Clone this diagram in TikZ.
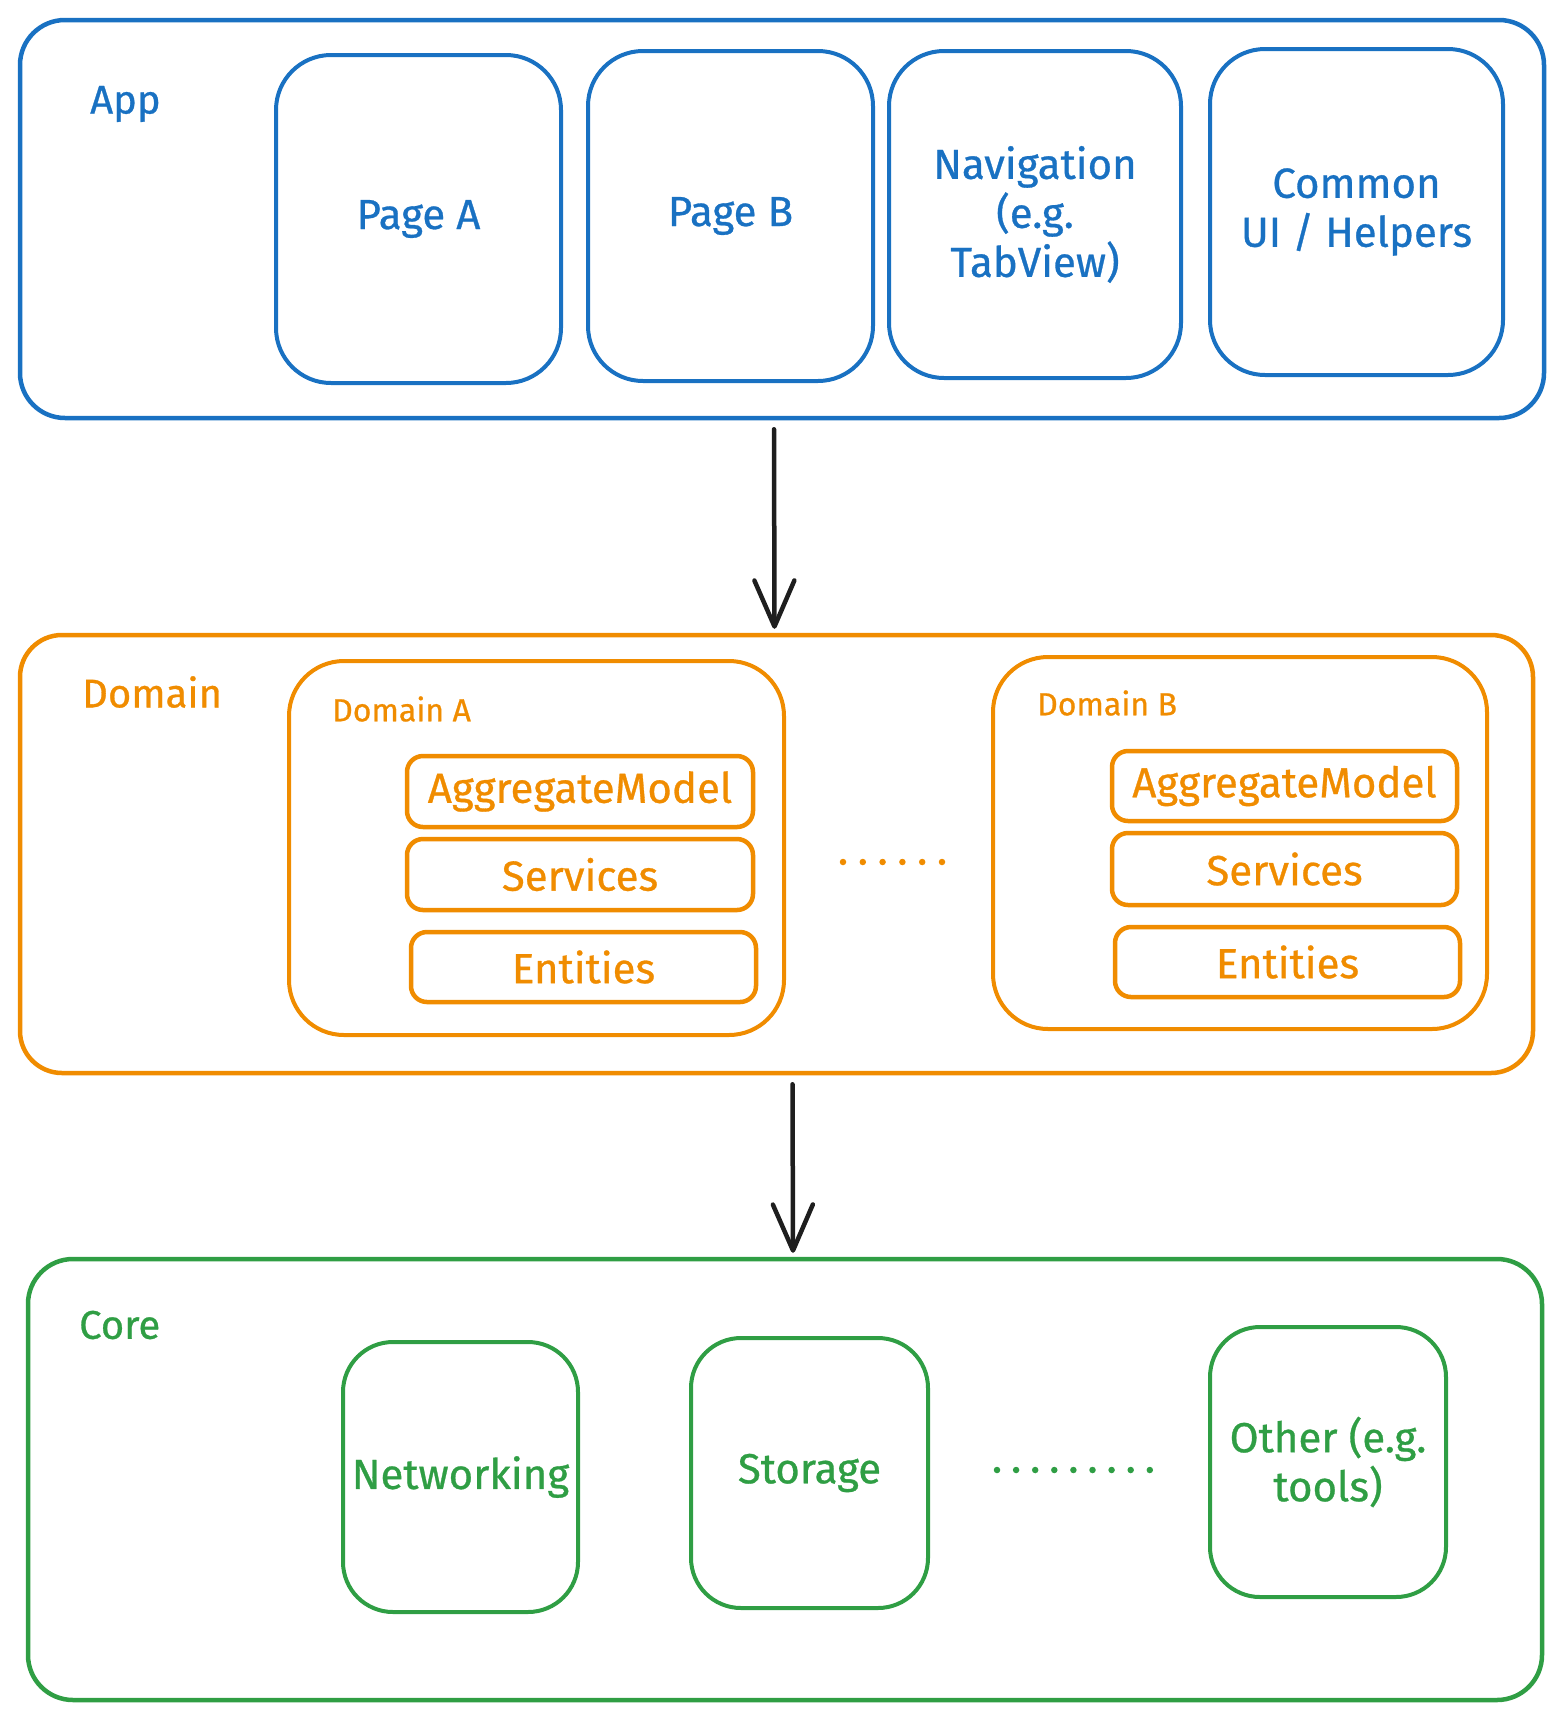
\documentclass[tikz,border=0pt]{standalone}
\usepackage{fontspec}
\setmainfont{Fira Sans}[FakeBold=0.7]
\usetikzlibrary{arrows.meta,calc}
\definecolor{appblue}{HTML}{1971C2}
\definecolor{domorange}{HTML}{F08C00}
\definecolor{coregreen}{HTML}{2F9E44}
\definecolor{ink}{HTML}{1E1E1E}
\begin{document}
\begin{tikzpicture}[x=1pt,y=-1pt,
  box/.style={draw, rounded corners=#1, line width=4pt, inner sep=0pt, align=center,
    font=\fontsize{42}{49}\selectfont},
  box/.default=45pt,
  layer/.style={box=#1, line width=4.5pt},
  small/.style={box=16pt, line width=4.5pt},
  title/.style={anchor=west, inner sep=0pt, font=\fontsize{40}{48}\selectfont},
  subtitle/.style={anchor=west, inner sep=0pt, font=\fontsize{32}{38}\selectfont},
  arr/.style={draw=ink, line width=4.5pt, line cap=round,
    -{Straight Barb[round, length=46pt, width=40pt]}},
  dot/.style={fill, circle, inner sep=0pt, minimum size=6.5pt}
]
\useasboundingbox (0,0) rectangle (1564,1717);

% ---------- App layer ----------
\begin{scope}[appblue]
\node[layer=45pt, minimum width=1524pt, minimum height=398pt] (app) at (782,219) {};
\node[title] (applbl) at (90,104) {App};
\node[box=55pt, minimum width=285pt, minimum height=328pt] (pagea) at (418.5,219) {Page A};
\node[box=55pt, minimum width=285pt, minimum height=330pt] (pageb) at (730.5,216) {Page B};
\node[box=55pt, minimum width=292pt, minimum height=327pt] (nav) at (1035,214.5) {Navigation\\(e.g.\\TabView)};
\node[box=55pt, minimum width=293pt, minimum height=326pt] (common) at (1356.5,212) {Common\\UI / Helpers};
\end{scope}

% ---------- Domain layer ----------
\begin{scope}[domorange]
\node[layer=42pt, minimum width=1513pt, minimum height=438pt] (domain) at (776.5,854) {};
\node[title] (domlbl) at (82,692) {Domain};
\node[box=55pt, minimum width=495pt, minimum height=374pt] (doma) at (536.5,848) {};
\node[subtitle] (domalbl) at (332,709) {Domain A};
\node[small, minimum width=346pt, minimum height=71pt] (agga) at (580,791.5) {AggregateModel};
\node[small, minimum width=346pt, minimum height=71pt] (serva) at (580,874.5) {Services};
\node[small, minimum width=345pt, minimum height=70pt] (enta) at (583.5,967) {Entities};
\node[box=55pt, minimum width=494pt, minimum height=372pt] (domb) at (1240,843) {};
\node[subtitle] (domblbl) at (1037,703) {Domain B};
\node[small, minimum width=345pt, minimum height=70pt] (aggb) at (1284.5,786) {AggregateModel};
\node[small, minimum width=345pt, minimum height=72pt] (servb) at (1284.5,869) {Services};
\node[small, minimum width=345pt, minimum height=70pt] (entb) at (1287.5,962) {Entities};
\foreach \i in {0,...,5} \node[dot] (ddot\i) at (843+19.8*\i,862) {};
\end{scope}

% ---------- Core layer ----------
\begin{scope}[coregreen]
\node[layer=45pt, minimum width=1514pt, minimum height=441pt] (core) at (785,1479.5) {};
\node[title] (corelbl) at (79,1325) {Core};
\node[box=50pt, minimum width=235pt, minimum height=270pt] (net) at (460.5,1477) {Networking};
\node[box=50pt, minimum width=237pt, minimum height=270pt] (storage) at (809.5,1473) {Storage};
\node[box=50pt, minimum width=236pt, minimum height=270pt] (other) at (1328,1462) {Other (e.g.\\tools)};
\foreach \i in {0,...,8} \node[dot] (cdot\i) at (997+19.1*\i,1470) {};
\end{scope}

% ---------- Dependencies ----------
\draw[arr] ($(app.south)+(-8,9)$) -- ($(domain.north)+(-2,-4)$);
\draw[arr] ($(domain.south)+(16,9)$) -- ($(core.north)+(8,-4)$);
\end{tikzpicture}
\end{document}
